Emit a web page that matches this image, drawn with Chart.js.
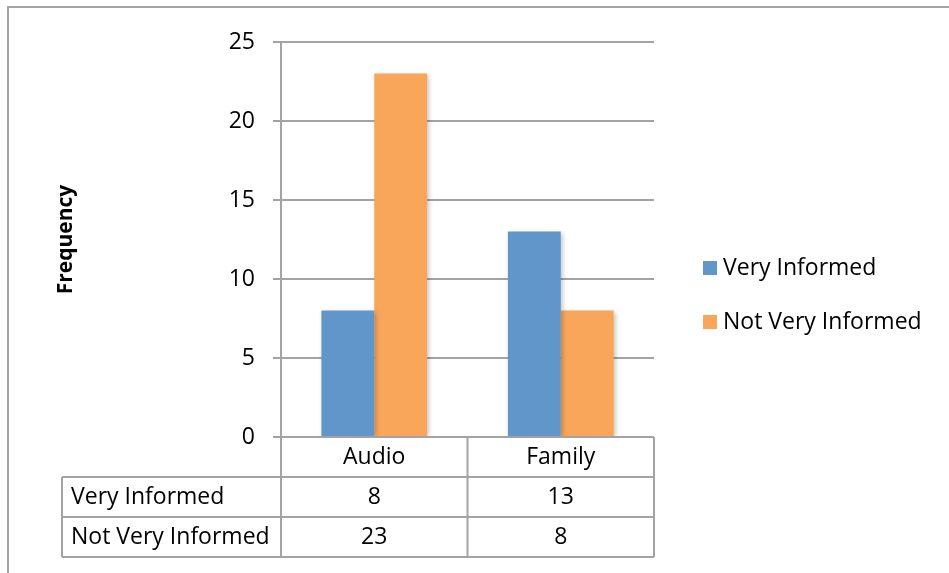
<!DOCTYPE html>
<html>
<head>
<meta charset="utf-8">
<script src="https://cdn.jsdelivr.net/npm/chart.js@4.4.1/dist/chart.umd.min.js"></script>
<style>
    body { margin: 0; background: #fff; }
    #wrap { width: 949px; height: 573px; }
</style>
</head>
<body>
<div id="wrap"><canvas id="freq_chart" width="949" height="573"></canvas></div>
<script>
const categories = ["Audio", "Family"];
const series_labels = ["Very Informed", "Not Very Informed"];
const very_informed = [8, 13];
const not_very_informed = [23, 8];
const y_max = 25;
const y_step = 5;

const chart_colours = ["#6096c9", "#f9a65a"];
const line_colour = "#a3a3a3";
const font_family = "'Open Sans', sans-serif";
const font_size = 23;

// draws the outer frame, the data table under the plot and the legend
const table_plugin = {
    id: "dataTable",
    beforeDraw(chart) {
        const ctx = chart.ctx;
        ctx.save();
        ctx.fillStyle = "#fff";
        ctx.fillRect(0, 0, chart.width, chart.height);
        ctx.strokeStyle = line_colour;
        ctx.lineWidth = 2;
        ctx.strokeRect(8, 7, chart.width + 20, chart.height + 20);   // frame runs off the page
        ctx.restore();
    },
    beforeDatasetsDraw(chart) {
        const ctx = chart.ctx;
        ctx.save();
        ctx.shadowColor = "rgba(0,0,0,0.25)";
        ctx.shadowBlur = 5;
        ctx.shadowOffsetX = 2;
        ctx.shadowOffsetY = 1;
    },
    afterDatasetsDraw(chart) {
        chart.ctx.restore();
    },
    afterDraw(chart) {
        const ctx = chart.ctx;
        const area = chart.chartArea;
        const x_scale = chart.scales.x;
        const cell_w = (area.right - area.left) / categories.length;
        const row_h = 40;
        const table_left = 62;
        const top = area.bottom;
        const rows = [very_informed, not_very_informed];
        const bottom = top + (rows.length + 1) * row_h;

        ctx.save();
        ctx.strokeStyle = line_colour;
        ctx.lineWidth = 2;
        ctx.beginPath();
        ctx.moveTo(area.left, top);
        ctx.lineTo(area.right, top);
        for (let r = 1; r <= rows.length + 1; r++) {
            ctx.moveTo(table_left, top + r * row_h);
            ctx.lineTo(area.right, top + r * row_h);
        }
        ctx.moveTo(table_left, top + row_h);
        ctx.lineTo(table_left, bottom);
        for (let i = 0; i <= categories.length; i++) {
            const x = area.left + i * cell_w;
            ctx.moveTo(x, top);
            ctx.lineTo(x, bottom);
        }
        ctx.stroke();

        ctx.fillStyle = "#000";
        ctx.font = `${font_size}px ${font_family}`;
        ctx.textBaseline = "middle";
        ctx.textAlign = "center";
        for (let i = 0; i < categories.length; i++) {
            const cx = x_scale.getPixelForValue(i);
            ctx.fillText(categories[i], cx, top + row_h / 2);
            for (let r = 0; r < rows.length; r++) {
                ctx.fillText(String(rows[r][i]), cx, top + (r + 1.5) * row_h);
            }
        }
        ctx.textAlign = "left";
        for (let r = 0; r < rows.length; r++) {
            ctx.fillText(series_labels[r], table_left + 9, top + (r + 1.5) * row_h);
        }

        // legend
        const legend_y = [268, 322];
        for (let r = 0; r < series_labels.length; r++) {
            ctx.fillStyle = chart_colours[r];
            ctx.fillRect(703, legend_y[r] - 7, 14, 14);
            ctx.fillStyle = "#000";
            ctx.fillText(series_labels[r], 723, legend_y[r]);
        }
        ctx.restore();
    }
};

const bar_data = {
    labels: categories,
    datasets: [{
        label: series_labels[0],
        data: very_informed,
        backgroundColor: chart_colours[0]
    },
    {
        label: series_labels[1],
        data: not_very_informed,
        backgroundColor: chart_colours[1]
    }]
};

const config_bar = {
    type: "bar",
    data: bar_data,
    options: {
        responsive: false,
        animation: false,
        categoryPercentage: 0.567,
        barPercentage: 1,
        layout: {
            padding: { top: 42, right: 295, bottom: 136, left: 0 }
        },
        plugins: {
            legend: { display: false },
            tooltip: { enabled: false }
        },
        scales: {
            x: {
                display: false
            },
            y: {
                min: 0,
                max: y_max,
                afterFit: (scale) => { scale.width = 281; },
                ticks: {
                    stepSize: y_step,
                    padding: 18,
                    color: "#000",
                    font: { family: font_family, size: font_size }
                },
                grid: {
                    color: line_colour,
                    lineWidth: 2,
                    tickLength: 8
                },
                border: { color: line_colour, width: 2 },
                title: {
                    display: true,
                    text: "Frequency",
                    color: "#000",
                    font: { family: font_family, size: 21, weight: "bold" },
                    padding: { top: 53, bottom: 0 }
                }
            }
        }
    },
    plugins: [table_plugin]
};

const ctx_bar = document.getElementById("freq_chart").getContext("2d");
const bar_chart = new Chart(ctx_bar, config_bar);
</script>
</body>
</html>
